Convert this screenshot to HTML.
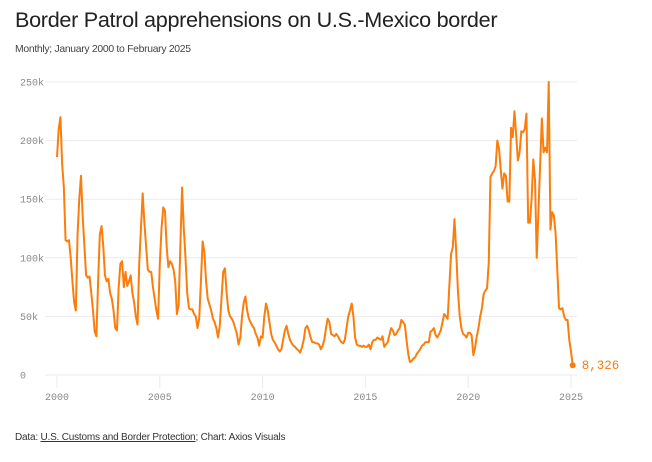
<!DOCTYPE html>
<html><head><meta charset="utf-8"><style>
body{margin:0;background:#fff;width:652px;height:462px;overflow:hidden;font-family:"Liberation Sans",sans-serif}
#title{position:absolute;left:15px;top:7px;font-size:21.6px;color:#222;letter-spacing:-0.3px}
#sub{position:absolute;left:15px;top:44px;font-size:10.4px;color:#444;letter-spacing:-0.3px}
#foot{position:absolute;left:15px;top:432px;font-size:10px;color:#333;letter-spacing:-0.2px}
#foot a{color:#333;text-decoration:underline}
svg{position:absolute;left:0;top:0}
</style></head><body>
<div id="title">Border Patrol apprehensions on U.S.-Mexico border</div>
<div id="sub">Monthly; January 2000 to February 2025</div>
<svg id="chart" width="652" height="462"></svg>
<div id="foot">Data: <a>U.S. Customs and Border Protection</a>; Chart: Axios Visuals</div>
<script>
const yTicks=[0,50,100,150,200,250];
const yTickLabels=["0","50k","100k","150k","200k","250k"];
const xTicks=[2000,2005,2010,2015,2020,2025];
const startYear=2000;
const values=[
186,210,220,180,160,115,114,115,100,80,62,55,
120,150,170,135,110,85,83,84,70,55,37,33,
80,120,127,110,85,80,82,70,65,55,40,38,
75,95,97,75,88,76,80,85,70,62,50,43,
95,125,155,130,110,90,88,88,75,65,55,48,
95,125,143,140,110,92,97,95,90,80,52,60,
110,160,125,100,70,57,56,56,52,50,40,48,
80,114,105,80,65,60,55,48,45,40,32,42,
65,88,91,70,55,50,48,45,40,35,26,32,
50,62,67,55,48,45,42,40,35,32,25,33,
32,50,61,55,45,35,30,28,25,22,20,22,
30,38,42,35,30,27,25,24,22,21,19,24,
30,40,42,38,32,28,28,27,27,26,22,25,
30,40,48,45,35,34,33,35,33,30,28,27,
30,40,50,55,61,50,32,26,25,25,24,25,
24,24,26,22,28,30,30,32,31,30,33,24,
26,28,34,40,38,34,35,38,40,47,45,43,
30,18,11,12,14,15,18,20,22,25,26,28,
28,28,37,38,40,34,32,35,38,45,52,50,
48,76,103,109,133,105,72,51,40,35,34,32,
36,36,34,17,23,33,40,50,57,69,72,74,
96,169,172,174,178,200,193,175,159,172,170,148,
148,211,203,225,205,183,190,208,207,210,223,130,
130,150,184,166,100,140,180,219,190,194,190,250,
124,139,136,121,90,57,56,57,50,47,47,30,
20,8.326];
const lastLabel="8,326";

const svg=document.getElementById('chart');
const NS='http://www.w3.org/2000/svg';
const y0=375,y1=82,x0=57,x1=571;
const yScale=v=>y0-(v/250)*(y0-y1);
const xScale=t=>x0+(t-2000)/25*(x1-x0);
function mk(tag,attrs){const e=document.createElementNS(NS,tag);for(const k in attrs)e.setAttribute(k,attrs[k]);svg.appendChild(e);return e;}
yTicks.forEach((v,i)=>{
  const g=mk('line',{x1:45,x2:577,y1:yScale(v),y2:yScale(v),stroke:'#ebebeb','stroke-width':1});
  
  
  const t=mk('text',{x:20,y:yScale(v)+3.5,'font-size':10,fill:'#888','font-family':'Liberation Mono, monospace'});
  t.textContent=yTickLabels[i];
  
  
});
xTicks.forEach(yr=>{
  const l=mk('line',{x1:xScale(yr),x2:xScale(yr),y1:375,y2:388,stroke:'#ebebeb','stroke-width':1});
  
  
  const t=mk('text',{x:xScale(yr),y:400,'font-size':10,fill:'#888','text-anchor':'middle','font-family':'Liberation Mono, monospace'});
  t.textContent=yr;
  
  
});
let d='';
values.forEach((v,i)=>{const t=startYear+i/12;d+=(i?'L':'M')+xScale(t).toFixed(2)+','+yScale(v).toFixed(2);});
const p=mk('path',{d:d,fill:'none',stroke:'#fb7d0c','stroke-width':2,'stroke-linejoin':'round'});


const li=values.length-1,lx=xScale(startYear+li/12),ly=yScale(values[li]);
const c=mk('circle',{cx:lx,cy:ly,r:3,fill:'#fb7d0c'});


const lt=mk('text',{x:lx+9,y:ly+4,'font-size':12.5,fill:'#fb7d0c','font-family':'Liberation Mono, monospace'});
lt.textContent=lastLabel;


</script>
</body></html>
